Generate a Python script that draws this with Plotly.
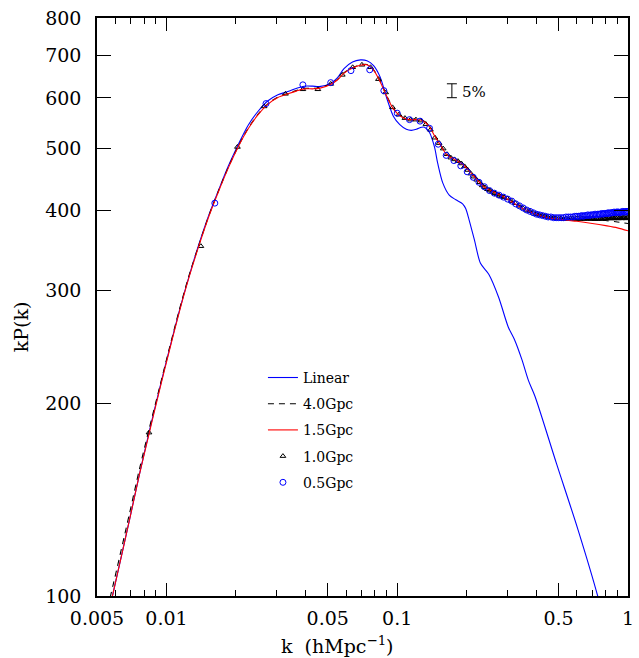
import plotly.graph_objects as go

# ---------------- data ----------------
K_LIN = [0.00541, 0.00587, 0.00693, 0.00764, 0.00843, 0.00931, 0.01027, 0.01134, 0.0125, 0.0138,
         0.01523, 0.01683, 0.01856, 0.0205, 0.0226, 0.02495, 0.02755, 0.0304, 0.0336, 0.0365,
         0.0395, 0.0430, 0.0459, 0.0514, 0.0550, 0.0588, 0.0640, 0.0693, 0.0739, 0.0790,
         0.0843, 0.0900, 0.0962, 0.1026, 0.1095, 0.1150, 0.1210, 0.1275, 0.1313, 0.1380,
         0.1450, 0.1498, 0.1575, 0.1680, 0.1795, 0.1920, 0.1980, 0.2048, 0.2160, 0.2295,
         0.2496, 0.2750, 0.3030, 0.3230, 0.3470, 0.3705, 0.3955, 0.4900, 0.6070, 0.7390, 0.7600]
P_LIN = [89, 101, 132, 155, 181, 210, 242, 278, 315, 354,
         393, 431, 470, 508, 544, 572, 594, 607, 614, 621,
         626, 626, 625, 632, 645, 667, 683, 688, 686, 674,
         647, 600, 562, 545, 536, 534, 536, 540, 540, 530,
         503, 474, 442, 423, 416, 410, 403, 387, 360, 331,
         318, 293, 263, 251, 234, 217, 205, 161, 127, 100, 96]

K_NL = [0.00541, 0.00587, 0.00693, 0.00764, 0.00843, 0.00931, 0.01027, 0.01134, 0.0125, 0.0138,
        0.01523, 0.01683, 0.01856, 0.0205, 0.0226, 0.02495, 0.02755, 0.0304, 0.0336, 0.0365,
        0.0395, 0.0430, 0.0459, 0.0514, 0.0550, 0.0588, 0.0640, 0.0693, 0.0739, 0.0790,
        0.0843, 0.0900, 0.0962, 0.1026, 0.1080, 0.1130, 0.1210, 0.1290, 0.1380, 0.1450,
        0.1530, 0.1650, 0.1795, 0.1945, 0.2120, 0.2220, 0.2375, 0.2600, 0.2940, 0.3470,
        0.4360, 0.5300, 0.6000, 0.7000, 0.8000, 0.9000, 1.0000]
P_15GPC = [89, 101, 132, 155, 180, 209, 241, 277, 314, 352,
           391, 429, 467, 504, 537, 565, 587, 601, 609, 615,
           620, 620, 621, 630, 640, 656, 668, 675, 676, 663,
           636, 604, 577, 563, 557, 555, 555, 553, 541, 524,
           508, 488, 480, 471, 455, 447, 436, 428, 419, 404,
           391, 387, 385, 382, 379, 376, 372]
P_40GPC = [92, 104, 135, 158, 183, 211, 243, 279, 316, 353,
           392, 430, 468, 505, 538, 566, 588, 602, 610, 616,
           621, 621, 622, 631, 641, 657, 669, 676, 677, 664,
           637, 605, 578, 564, 558, 556, 556, 554, 542, 525,
           509, 489, 481, 472, 456, 448, 437, 429, 420, 405,
           392, 389, 388, 387, 386, 384, 382]

K_10GPC = [0.0084, 0.0141, 0.0203, 0.0265, 0.0328, 0.0390, 0.0453, 0.0515, 0.0578, 0.0641,
           0.0703, 0.0766, 0.0829, 0.0891, 0.0954, 0.1017, 0.1080, 0.1142, 0.1205, 0.1268,
           0.1331, 0.1393, 0.1456, 0.1519, 0.1582, 0.1644, 0.1707, 0.1770, 0.1833, 0.1895,
           0.1958, 0.2021, 0.2084, 0.2146, 0.2209, 0.2272, 0.2335, 0.2397, 0.2460, 0.2523,
           0.2586, 0.2648, 0.2711, 0.2774, 0.2837, 0.2899, 0.3000, 0.3125, 0.3250, 0.3375,
           0.3500, 0.3625, 0.3750, 0.3875, 0.4000, 0.4125, 0.4250, 0.4375, 0.4500, 0.4625,
           0.4750, 0.4875, 0.5000, 0.5125, 0.5250, 0.5375, 0.5500, 0.5625, 0.5750, 0.5875,
           0.6000, 0.6100, 0.6200, 0.6300, 0.6400, 0.6500, 0.6600, 0.6700, 0.6800, 0.6900,
           0.7000, 0.7100, 0.7200, 0.7300, 0.7400, 0.7500, 0.7600, 0.7700, 0.7800, 0.7900,
           0.8000, 0.8100, 0.8200, 0.8300, 0.8400, 0.8500, 0.8600, 0.8700, 0.8800, 0.8900,
           0.9000, 0.9100, 0.9200, 0.9300, 0.9400, 0.9500, 0.9600, 0.9700, 0.9800, 0.9900, 1.0000]
P_10GPC = [180, 352, 503, 582, 609, 619, 619, 631, 652, 670,
           676, 670, 642, 612, 580, 565, 558, 555, 555, 553,
           546, 535, 520, 510, 500, 490, 484, 481, 478, 474,
           469, 463, 457, 452, 447, 443, 438, 435, 432, 430,
           428, 426, 424, 422, 421, 420, 418, 414, 411, 407,
           404, 401, 399, 397, 395, 394, 393, 392, 391, 390,
           390, 389, 389, 389, 388, 389, 388, 389, 389, 388,
           389, 389, 388, 389, 389, 388, 389, 389, 389, 388,
           389, 389, 388, 389, 388, 389, 389, 388, 389, 389,
           389, 389, 389, 390, 389, 389, 390, 389, 390, 389,
           390, 389, 390, 390, 389, 390, 390, 390, 389, 390, 390]

K_05GPC = [0.0162, 0.0270, 0.0390, 0.0515, 0.0630, 0.0760, 0.0875, 0.1000, 0.1130, 0.1255,
           0.1380, 0.1505, 0.1630, 0.1760, 0.1885, 0.2010, 0.2135, 0.2260, 0.2385, 0.2510,
           0.2635, 0.2760, 0.2885, 0.3010, 0.3135, 0.3260, 0.3385, 0.3510, 0.3635, 0.3760,
           0.3885, 0.4010, 0.4135, 0.4260, 0.4385, 0.4510, 0.4635, 0.4760, 0.4885, 0.5010,
           0.5135, 0.5260, 0.5385, 0.5510, 0.5635, 0.5760, 0.5885, 0.6000, 0.6100, 0.6200,
           0.6300, 0.6400, 0.6500, 0.6600, 0.6700, 0.6800, 0.6900, 0.7000, 0.7100, 0.7200,
           0.7300, 0.7400, 0.7500, 0.7600, 0.7700, 0.7800, 0.7900, 0.8000, 0.8100, 0.8200,
           0.8300, 0.8400, 0.8500, 0.8600, 0.8700, 0.8800, 0.8900, 0.9000, 0.9100, 0.9200,
           0.9300, 0.9400, 0.9500, 0.9600, 0.9700, 0.9800, 0.9900, 1.0000]
P_05GPC = [411, 588, 629, 634, 662, 664, 616, 568, 555, 552,
           538, 508, 488, 479, 470, 460, 451, 443, 436, 430,
           426, 423, 420, 417, 414, 410, 407, 404, 401, 399,
           397, 395, 394, 393, 392, 391, 391, 390, 390, 390,
           390, 390, 391, 391, 391, 391, 392, 392, 392, 392,
           393, 392, 393, 393, 394, 393, 394, 394, 394, 395,
           394, 395, 395, 395, 396, 395, 396, 396, 396, 397,
           396, 397, 397, 397, 398, 397, 398, 398, 398, 397,
           398, 398, 399, 398, 398, 399, 398, 399]

ERR_K = [0.1725]
ERR_P = [616]
ERR_FRAC = 0.05

X_TICKS = [0.005, 0.01, 0.05, 0.1, 0.5, 1]
X_TICKTEXT = ["0.005", "0.01", "0.05", "0.1", "0.5", "1"]
X_MINOR = [0.006, 0.007, 0.008, 0.009, 0.02, 0.03, 0.04, 0.06, 0.07, 0.08, 0.09,
           0.2, 0.3, 0.4, 0.6, 0.7, 0.8, 0.9]
Y_TICKS = [100, 200, 300, 400, 500, 600, 700, 800]

FONT = "DejaVu Serif"

fig = go.Figure()

fig.add_trace(go.Scatter(x=K_LIN, y=P_LIN, mode="lines", name="Linear",
                         line=dict(color="#0000ff", width=1.1, shape="spline", smoothing=0.8),
                         legendrank=1, legendgroup="a"))
fig.add_trace(go.Scatter(x=K_NL, y=P_40GPC, mode="lines", name="4.0Gpc",
                         line=dict(color="black", width=1.1, dash="6px,5px", shape="spline", smoothing=0.8),
                         legendrank=2, legendgroup="b"))
fig.add_trace(go.Scatter(x=K_10GPC, y=P_10GPC, mode="markers", name="1.0Gpc",
                         marker=dict(symbol="triangle-up-open", size=5, color="black", line=dict(width=1)),
                         legendrank=4, legendgroup="d"))
fig.add_trace(go.Scatter(x=K_NL, y=P_15GPC, mode="lines", name="1.5Gpc",
                         line=dict(color="#ff0000", width=1.1, shape="spline", smoothing=0.8),
                         legendrank=3, legendgroup="c"))
fig.add_trace(go.Scatter(x=K_05GPC, y=P_05GPC, mode="markers", name="0.5Gpc",
                         marker=dict(symbol="circle-open", size=6, color="#0000ff", line=dict(width=1)),
                         legendrank=5, legendgroup="e"))

# 5% error-bar indicator
fig.add_trace(go.Scatter(x=ERR_K, y=ERR_P, mode="markers", showlegend=False,
                         marker=dict(size=1, color="rgba(0,0,0,0)"),
                         error_y=dict(type="data", symmetric=True,
                                      array=[p * ERR_FRAC / 2 for p in ERR_P],
                                      color="black", thickness=1, width=5)))

fig.add_annotation(x=0.6835, y=0.872, xref="paper", yref="paper", text="5%",
                   showarrow=False, xanchor="left", yanchor="middle",
                   font=dict(family=FONT, size=15, color="black"))

# axis titles
fig.add_annotation(x=0.4525, y=-0.085, xref="paper", yref="paper",
                   text="k  (hMpc<sup>−1</sup>)", showarrow=False,
                   xanchor="center", yanchor="middle",
                   font=dict(family=FONT, size=19, color="black"))
fig.add_annotation(x=-0.143, y=0.465, xref="paper", yref="paper",
                   text="kP(k)", showarrow=False, textangle=-90,
                   xanchor="center", yanchor="middle",
                   font=dict(family=FONT, size=19, color="black"))

axis_common = dict(showgrid=False, zeroline=False, showline=True, linecolor="black",
                   linewidth=1.5, ticks="inside", tickcolor="black", tickwidth=1,
                   mirror="ticks", tickfont=dict(family=FONT, size=19, color="black"))

fig.update_xaxes(type="log", range=[-2.30103, 0], tickmode="array",
                 tickvals=X_TICKS, ticktext=X_TICKTEXT, ticklen=13,
                 minor=dict(tickmode="array", tickvals=X_MINOR, ticks="inside",
                            ticklen=6, tickcolor="black", tickwidth=1, showgrid=False),
                 ticklabelstandoff=4, **axis_common)
fig.update_yaxes(type="log", range=[2, 2.90309], tickmode="array",
                 tickvals=Y_TICKS, ticktext=[str(v) for v in Y_TICKS], ticklen=14,
                 ticklabelstandoff=10, **axis_common)

fig.update_layout(
    width=639, height=658,
    margin=dict(l=97, r=5, t=18, b=62),
    paper_bgcolor="white", plot_bgcolor="white",
    showlegend=True,
    legend=dict(x=0.3125, y=0.405, xanchor="left", yanchor="top",
                bgcolor="rgba(0,0,0,0)", borderwidth=0,
                traceorder="grouped", tracegroupgap=5,
                font=dict(family=FONT, size=14, color="black"),
                itemwidth=30),
)

fig.write_html("out.html", config={"displayModeBar": False},
               post_script="document.body.style.margin='0';")
